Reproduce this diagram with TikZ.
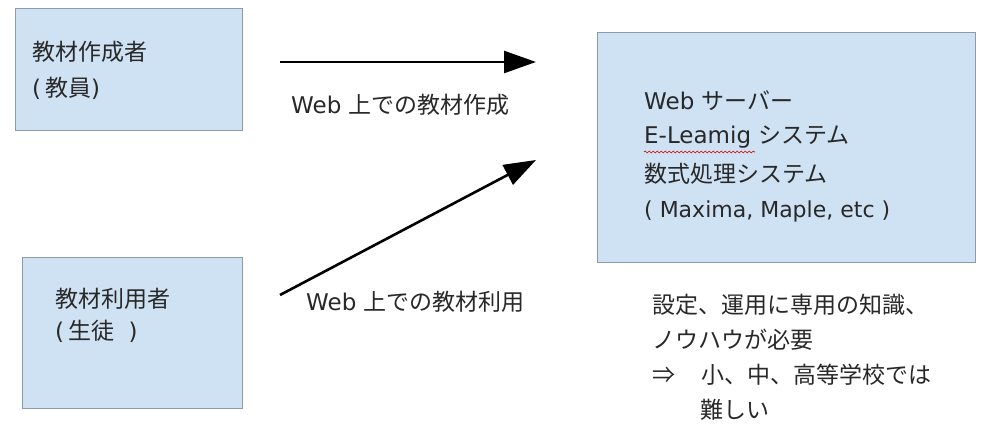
\documentclass[tikz,border=0pt]{standalone}
\usepackage{fontspec}
\setmainfont{Noto Sans CJK JP}
\newfontfamily\lat{DejaVu Sans}
\usetikzlibrary{arrows.meta,decorations.pathmorphing}
\definecolor{boxfill}{RGB}{207,226,243}
\definecolor{boxline}{RGB}{140,155,170}
\definecolor{txt}{RGB}{40,40,40}
\tikzset{
  panel/.style={draw=boxline,line width=1pt,fill=boxfill,inner sep=0pt,anchor=north west},
  lbl/.style={anchor=west,inner sep=0pt,text=txt,font=\fontsize{23}{27}\selectfont},
  boxtxt/.style={anchor=west,inner sep=0pt,text=txt,font=\fontsize{23}{27}\selectfont},
  notetxt/.style={anchor=west,inner sep=0pt,text=txt,font=\fontsize{23}{27}\selectfont},
  flow/.style={line width=2.6pt,-{Triangle[length=32pt,width=22pt]}}
}
\begin{document}
\begin{tikzpicture}[x=1pt,y=-1pt]
\path[use as bounding box,fill=white] (0,0) rectangle (989,435);
% boxes
\node[panel,minimum width=227pt,minimum height=122pt] (author) at (15,8) {};
\node[panel,minimum width=220pt,minimum height=151pt] (user) at (22,257) {};
\node[panel,minimum width=378pt,minimum height=230pt] (server) at (597,32) {};
% box texts
\node[boxtxt] (a1) at (32,52) {教材作成者};
\node[boxtxt] (a2) at (32,88) {{\lat(\,}教員{\lat)}};
\node[boxtxt] (u1) at (55,299) {教材利用者};
\node[boxtxt] (u2) at (55,331) {{\lat(\,}生徒{\lat\ \ )}};
\node[boxtxt] (s1) at (644,101) {{\lat Web }サーバー};
\node[boxtxt] (s2) at (644,137) {{\lat E-Leamig }システム};
\node[boxtxt] (s3) at (644,174) {数式処理システム};
\node[boxtxt,font=\fontsize{22}{26}\selectfont\lat] (s4) at (644,211) {( Maxima, Maple, etc )};
\draw[red!80!black,line width=0.6pt,decorate,decoration={snake,amplitude=1pt,segment length=4pt}] (644,152) -- (755,152);
% arrows
\coordinate (p1) at (280,62);
\coordinate (p2) at (536,62);
\coordinate (q1) at (280,295);
\coordinate (q2) at (536,160);
\draw[flow] (p1) -- (p2);
\draw[flow] (q1) -- (q2);
\node[lbl] (l1) at (291,105) {{\lat Web }上での教材作成};
\node[lbl] (l2) at (306,302) {{\lat Web }上での教材利用};
% note
\node[notetxt] (n1) at (652,305) {設定、運用に専用の知識、};
\node[notetxt] (n2) at (652,340) {ノウハウが必要};
\node[notetxt] (n3) at (652,375) {⇒\hspace{26pt}小、中、高等学校では};
\node[notetxt] (n4) at (700,410) {難しい};
\end{tikzpicture}
\end{document}
